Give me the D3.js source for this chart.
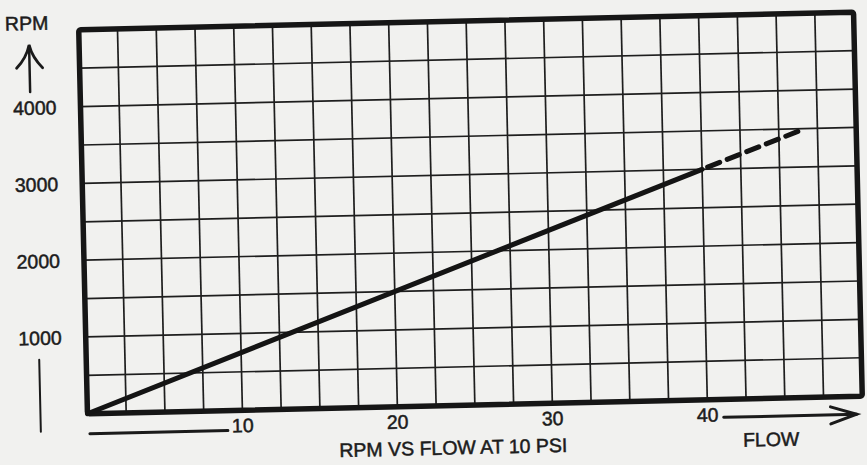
<!DOCTYPE html>
<html lang="en">
<head>
  <meta charset="UTF-8">
  <title>RPM vs flow</title>
  <script src="https://d3js.org/d3.v7.min.js" charset="utf-8"></script>
  <style>
    body { margin: 0; background: #f1f1ef; }
    text { font-family: "Liberation Sans", Arial, sans-serif; font-size: 19.5px; fill: #1c1c1c; stroke: #1c1c1c; stroke-width: 0.5px; }
  </style>
</head>
<body>
</body>
<script>
  // values
  let xTicks = [10, 20, 30, 40]
  let yTicks = [1000, 2000, 3000, 4000]
  let measured = [{flow: 0, rpm: 0}, {flow: 40, rpm: 3000}]
  let projected = [{flow: 40, rpm: 3000}, {flow: 46.7, rpm: 3500}]

  let W = 867, H = 465
  let plotLeft = 83, plotTop = 21, pw = 775, ph = 384

  let svg = d3.select('body').append('svg').attr('width', W).attr('height', H)
  // the scan sits slightly crooked on the page
  let g = svg.append('g').attr('transform', 'rotate(-1.3, 470, 213)')

  let x = d3.scaleLinear().domain([0, 50]).range([plotLeft, plotLeft + pw])
  let y = d3.scaleLinear().domain([0, 5000]).range([plotTop + ph, plotTop])

  let grid = g.append('g').attr('stroke', '#1e1e1e').attr('stroke-width', 1.7)
  grid.selectAll('line.v').data(d3.range(0, 50.01, 2.5)).enter().append('line')
    .attr('class', 'v')
    .attr('x1', d => x(d)).attr('x2', d => x(d)).attr('y1', plotTop).attr('y2', plotTop + ph)
  grid.selectAll('line.h').data(d3.range(0, 5001, 500)).enter().append('line')
    .attr('class', 'h')
    .attr('y1', d => y(d)).attr('y2', d => y(d)).attr('x1', plotLeft).attr('x2', plotLeft + pw)

  g.append('rect').attr('x', plotLeft).attr('y', plotTop).attr('width', pw).attr('height', ph)
    .attr('fill', 'none').attr('stroke', '#161616').attr('stroke-width', 5.5).attr('rx', 2)

  let line = d3.line().x(d => x(d.flow)).y(d => y(d.rpm))
  g.append('path').attr('d', line(measured)).attr('fill', 'none')
    .attr('stroke', '#141414').attr('stroke-width', 5).attr('stroke-linecap', 'round')
  g.append('path').attr('d', line(projected)).attr('fill', 'none')
    .attr('stroke', '#141414').attr('stroke-width', 5).attr('stroke-dasharray', '13,8')
    .attr('stroke-dashoffset', -6).attr('stroke-linecap', 'round')

  // tick labels
  g.selectAll('text.y').data(yTicks).enter().append('text')
    .attr('class', 'y')
    .attr('x', plotLeft - 24).attr('y', d => y(d) + 7).attr('text-anchor', 'end').text(d => d)
  g.selectAll('text.x').data(xTicks).enter().append('text')
    .attr('class', 'x')
    .attr('x', d => x(d)).attr('y', plotTop + ph + 22).attr('text-anchor', 'middle').text(d => d)

  g.append('text').attr('x', 31).attr('y', 20).attr('text-anchor', 'middle').text('RPM')
  g.append('text').attr('x', 448).attr('y', 454).attr('text-anchor', 'middle').text('RPM VS FLOW AT 10 PSI')
  g.append('text').attr('x', 766).attr('y', 453).attr('text-anchor', 'middle').text('FLOW')

  let ink = g.append('g').attr('stroke', '#1a1a1a').attr('fill', 'none').attr('stroke-linecap', 'round')
  // up arrow under RPM
  ink.append('line').attr('x1', 33).attr('x2', 33).attr('y1', 36).attr('y2', 82).attr('stroke-width', 2.5)
  ink.append('path').attr('d', 'M20,58 Q30,48 33,35 Q36,48 46,58').attr('stroke-width', 2.8)
  // vertical stroke below 1000
  ink.append('line').attr('x1', 36).attr('x2', 36).attr('y1', 350).attr('y2', 422).attr('stroke-width', 2)
  // flow axis: short rule, then arrow after 40
  ink.append('line').attr('x1', plotLeft + 2).attr('x2', x(10) - 15).attr('y1', 425).attr('y2', 425).attr('stroke-width', 3)
  ink.append('line').attr('x1', x(40) + 16).attr('x2', 852).attr('y1', 423).attr('y2', 423).attr('stroke-width', 3)
  ink.append('path').attr('d', 'M826,415 L852,423 L826,432').attr('stroke-width', 3)
</script>
</html>
